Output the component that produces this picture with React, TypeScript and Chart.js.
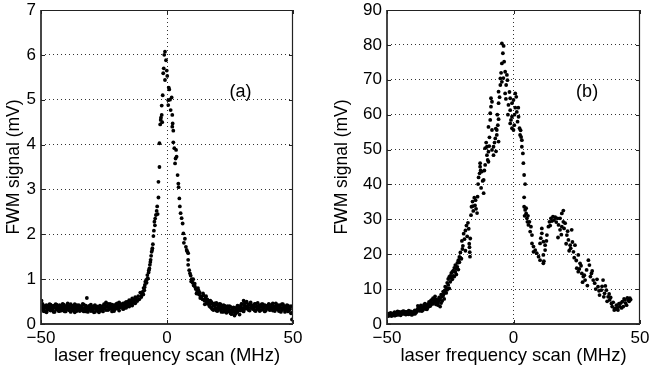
import React, { useEffect, useRef } from "react";
import { Chart, registerables } from "chart.js";

Chart.register(...registerables);

const FONT = "'Liberation Sans', Arial, Helvetica, sans-serif";

const xTicks = [-50, 0, 50];
const aYTicks = [0, 1, 2, 3, 4, 5, 6, 7];
const bYTicks = [0, 10, 20, 30, 40, 50, 60, 70, 80, 90];
const xTitle = "laser frequency scan (MHz)";
const yTitle = "FWM signal (mV)";

// ---------- Panel (a) ----------
const aLeftFreq = [
  -49.8, -49.4, -49.0, -48.6, -48.2, -47.8, -47.4, -47.0, -46.6, -46.2,
  -45.8, -45.4, -45.0, -44.6, -44.2, -43.8, -43.4, -43.0, -42.6, -42.2,
  -41.8, -41.4, -41.0, -40.6, -40.2, -39.8, -39.4, -39.0, -38.6, -38.2,
  -37.8, -37.4, -37.0, -36.6, -36.2, -35.8, -35.4, -35.0, -34.6, -34.2,
  -33.8, -33.4, -33.0, -32.6, -32.2, -31.8, -31.4, -31.0, -30.6, -30.2,
  -29.8, -29.4, -29.0, -28.6, -28.2, -27.8, -27.4, -27.0, -26.6, -26.2,
  -25.8, -25.4, -25.0, -24.6, -24.2, -23.8, -23.4, -23.0, -22.6, -22.2,
  -21.8, -21.4, -21.0, -20.6, -20.2, -19.8, -19.4, -19.0, -18.6, -18.2,
  -17.8, -17.4, -17.0, -16.6, -16.2, -15.8, -15.4, -15.0, -14.6, -14.2,
  -13.8, -13.4, -13.0, -12.6, -12.2,
];
const aLeftSignal1 = [
  0.52, 0.33, 0.40, 0.28, 0.37, 0.42, 0.31, 0.36, 0.44, 0.30,
  0.38, 0.34, 0.41, 0.27, 0.36, 0.43, 0.33, 0.38, 0.29, 0.40,
  0.35, 0.45, 0.32, 0.37, 0.28, 0.41, 0.34, 0.39, 0.30, 0.44,
  0.36, 0.31, 0.40, 0.26, 0.35, 0.42, 0.33, 0.38, 0.29, 0.40,
  0.34, 0.30, 0.43, 0.35, 0.28, 0.58, 0.37, 0.32, 0.41, 0.29,
  0.36, 0.33, 0.40, 0.27, 0.35, 0.31, 0.38, 0.26, 0.34, 0.30,
  0.39, 0.33, 0.44, 0.36, 0.48, 0.40, 0.31, 0.37, 0.45, 0.34,
  0.28, 0.39, 0.42, 0.33, 0.37, 0.46, 0.35, 0.30, 0.41, 0.38,
  0.44, 0.33, 0.40, 0.47, 0.36, 0.42, 0.50, 0.39, 0.45, 0.52,
  0.41, 0.48, 0.55, 0.46, 0.58,
];
const aLeftSignal2 = [
  0.38, 0.45, 0.29, 0.35, 0.41, 0.26, 0.39, 0.33, 0.37, 0.43,
  0.31, 0.40, 0.27, 0.36, 0.44, 0.32, 0.38, 0.29, 0.42, 0.35,
  0.30, 0.37, 0.43, 0.28, 0.39, 0.33, 0.46, 0.31, 0.36, 0.27,
  0.41, 0.35, 0.30, 0.44, 0.38, 0.29, 0.37, 0.42, 0.34, 0.31,
  0.39, 0.45, 0.28, 0.36, 0.41, 0.33, 0.27, 0.40, 0.35, 0.43,
  0.30, 0.38, 0.26, 0.42, 0.34, 0.39, 0.29, 0.36, 0.41, 0.32,
  0.37, 0.28, 0.35, 0.42, 0.31, 0.38, 0.45, 0.33, 0.40, 0.36,
  0.43, 0.34, 0.29, 0.38, 0.44, 0.35, 0.41, 0.48, 0.37, 0.43,
  0.39, 0.46, 0.35, 0.42, 0.49, 0.40, 0.45, 0.53, 0.44, 0.50,
  0.57, 0.47, 0.52, 0.60, 0.54,
];

const aRiseFreq = [
  -11.8, -11.4, -11.0, -10.6, -10.2, -9.9, -9.6, -9.3, -9.0, -8.8,
  -8.6, -8.3, -8.1, -7.8, -7.6, -7.3, -7.0, -6.8, -6.5, -6.3,
  -6.1, -5.8, -5.6, -5.4, -5.2, -5.0, -4.7, -4.4, -4.1, -3.9,
  -3.7, -3.4, -3.4, -3.0, -3.0, -2.7, -2.5, -2.4, -2.1, -2.1,
  -1.9, -1.7, -1.5, -1.3, -1.1, -0.8, -0.8, -0.4, -0.1, 0.1,
  -10.0, -9.4, -8.9, -7.9, -7.2, -6.6, -5.9, -4.8,
];
const aRiseSignal = [
  0.51, 0.62, 0.55, 0.70, 0.60, 0.68, 0.72, 0.80, 0.75, 0.87,
  0.94, 0.98, 0.92, 1.09, 1.02, 1.15, 1.24, 1.32, 1.43, 1.52,
  1.61, 1.69, 1.78, 1.96, 2.08, 2.28, 2.35, 2.43, 2.52, 2.62,
  2.45, 2.82, 3.17, 3.50, 4.03, 4.45, 4.55, 4.60, 4.66, 4.87,
  4.50, 5.10, 5.59, 5.70, 6.00, 5.44, 6.07, 5.88, 5.65, 5.53,
  0.64, 0.66, 0.82, 1.00, 1.20, 1.38, 1.65, 2.20,
];

const aFallFreq = [
  0.5, 0.5, 0.7, 0.9, 1.2, 1.45, 1.85, 2.1, 2.25, 2.1,
  2.5, 2.5, 2.9, 3.2, 3.4, 3.6, 3.8, 4.2, 4.5, 4.6,
  4.9, 5.1, 5.4, 5.8, 6.2, 6.5, 6.7, 7.1, 7.5, 7.8,
  8.0, 8.4, 8.4, 8.4, 8.8, 9.1, 9.4, 9.8, 10.2, 10.6,
  11.1, 11.4, 12.0, 12.3, 12.7, 13.0, 13.4, 13.7, 14.1, 14.5,
  14.9, 15.3, 15.7, 16.1,
  9.6, 10.4, 11.0, 11.7, 12.5, 13.2, 14.3, 15.0, 15.5, 16.0,
];
const aFallSignal = [
  4.99, 4.88, 5.27, 5.23, 5.00, 4.77, 5.05, 4.66, 4.47, 4.40,
  4.31, 4.05, 3.92, 3.58, 3.69, 3.88, 3.73, 3.32, 3.13, 3.05,
  2.80, 2.62, 2.47, 2.36, 2.24, 2.02, 1.81, 1.90, 1.72, 1.65,
  1.62, 1.58, 1.43, 1.32, 1.20, 1.13, 1.08, 1.00, 0.92, 0.86,
  0.83, 0.78, 0.72, 0.80, 0.66, 0.70, 0.62, 0.61, 0.55, 0.64,
  0.52, 0.58, 0.50, 0.45,
  0.95, 1.00, 0.90, 0.68, 0.75, 0.58, 0.68, 0.44, 0.62, 0.55,
];

const aRightFreq = [
  16.4, 16.8, 17.2, 17.6, 18.0, 18.4, 18.8, 19.2, 19.6, 20.0,
  20.4, 20.8, 21.2, 21.6, 22.0, 22.4, 22.8, 23.2, 23.6, 24.0,
  24.4, 24.8, 25.2, 25.6, 26.0, 26.4, 26.8, 27.2, 27.6, 28.0,
  28.4, 28.8, 29.2, 29.6, 30.0, 30.4, 30.8, 31.2, 31.6, 32.0,
  32.4, 32.8, 33.2, 33.6, 34.0, 34.4, 34.8, 35.2, 35.6, 36.0,
  36.4, 36.8, 37.2, 37.6, 38.0, 38.4, 38.8, 39.2, 39.6, 40.0,
  40.4, 40.8, 41.2, 41.6, 42.0, 42.4, 42.8, 43.2, 43.6, 44.0,
  44.4, 44.8, 45.2, 45.6, 46.0, 46.4, 46.8, 47.2, 47.6, 48.0,
  48.4, 48.8, 49.2, 49.6,
];
const aRightSignal1 = [
  0.48, 0.40, 0.52, 0.36, 0.45, 0.31, 0.42, 0.35, 0.47, 0.29,
  0.39, 0.33, 0.44, 0.27, 0.37, 0.42, 0.30, 0.36, 0.25, 0.40,
  0.33, 0.28, 0.38, 0.22, 0.34, 0.30, 0.19, 0.36, 0.26, 0.41,
  0.31, 0.21, 0.37, 0.44, 0.33, 0.28, 0.46, 0.39, 0.50, 0.35,
  0.43, 0.30, 0.48, 0.37, 0.41, 0.33, 0.45, 0.29, 0.39, 0.47,
  0.35, 0.42, 0.31, 0.38, 0.44, 0.36, 0.28, 0.41, 0.34, 0.39,
  0.45, 0.32, 0.37, 0.43, 0.30, 0.40, 0.35, 0.46, 0.33, 0.38,
  0.29, 0.42, 0.36, 0.31, 0.44, 0.34, 0.27, 0.39, 0.33, 0.41,
  0.30, 0.37, 0.24, 0.10,
];
const aRightSignal2 = [
  0.52, 0.44, 0.38, 0.49, 0.33, 0.41, 0.46, 0.36, 0.30, 0.43,
  0.37, 0.45, 0.31, 0.38, 0.34, 0.27, 0.41, 0.32, 0.38, 0.29,
  0.35, 0.40, 0.24, 0.31, 0.26, 0.37, 0.28, 0.23, 0.32, 0.27,
  0.35, 0.40, 0.30, 0.45, 0.36, 0.52, 0.41, 0.34, 0.47, 0.38,
  0.31, 0.44, 0.37, 0.42, 0.34, 0.39, 0.30, 0.45, 0.37, 0.33,
  0.41, 0.29, 0.38, 0.44, 0.32, 0.36, 0.42, 0.30, 0.39, 0.35,
  0.43, 0.31, 0.38, 0.34, 0.46, 0.37, 0.29, 0.40, 0.35, 0.42,
  0.32, 0.38, 0.27, 0.44, 0.36, 0.40, 0.31, 0.35, 0.42, 0.28,
  0.37, 0.33, 0.40, 0.25,
];

// ---------- Panel (b) ----------
const bBaseFreq = [
  -49.8, -49.4, -49.0, -48.6, -48.2, -47.8, -47.4, -47.0, -46.6, -46.2,
  -45.8, -45.4, -45.0, -44.6, -44.2, -43.8, -43.4, -43.0, -42.6, -42.2,
  -41.8, -41.4, -41.0, -40.6, -40.2, -39.8, -39.4, -39.0, -38.6, -38.2,
];
const bBaseSignal1 = [
  2.7, 2.3, 2.9, 2.5, 3.0, 2.6, 3.1, 2.4, 2.8, 3.3,
  2.6, 3.0, 3.5, 2.7, 3.2, 3.6, 2.9, 3.3, 2.7, 3.5,
  3.1, 2.8, 3.4, 3.0, 2.6, 3.2, 3.6, 2.9, 3.3, 4.0,
];
const bBaseSignal2 = [
  2.4, 3.0, 2.6, 3.2, 2.3, 2.9, 2.7, 3.4, 2.5, 3.1,
  3.6, 2.8, 3.2, 2.5, 3.4, 3.0, 3.7, 3.1, 3.5, 2.8,
  3.3, 3.8, 3.0, 3.6, 3.2, 2.9, 3.5, 3.9, 3.2, 3.6,
];

const bRiseFreq = [
  -37.8, -37.4, -37.0, -36.6, -36.2, -35.8, -35.4, -35.0, -34.6, -34.2,
  -33.8, -33.4, -33.0, -32.6, -32.2, -31.8, -31.4, -31.0, -30.6, -30.2,
  -29.8, -29.4, -29.0, -28.6, -28.2, -27.8, -27.4, -27.0, -26.6, -26.2,
  -25.8, -25.4, -25.0, -24.6, -24.2, -23.8, -23.4, -23.0, -22.6, -22.2,
  -21.8, -21.4, -21.0,
];
const bRiseSignal1 = [
  5.2, 3.9, 4.6, 4.1, 3.7, 4.8, 5.5, 4.4, 5.0, 4.2,
  5.7, 6.3, 5.1, 6.8, 5.9, 7.4, 6.5, 7.9, 5.6, 6.9,
  6.1, 7.6, 5.0, 8.4, 6.6, 9.3, 7.2, 10.7, 8.9, 11.8,
  12.9, 10.2, 13.8, 14.6, 12.8, 15.3, 13.6, 16.9, 14.2, 17.5,
  15.6, 19.2, 20.5,
];
const bRiseSignal2 = [
  4.4, 4.8, 3.8, 5.3, 4.5, 4.0, 4.7, 5.8, 4.3, 5.4,
  4.8, 5.2, 6.0, 5.5, 6.9, 5.8, 7.1, 6.3, 7.0, 6.2,
  5.4, 6.8, 7.3, 6.0, 7.9, 8.2, 8.8, 9.6, 10.4, 9.8,
  11.2, 13.5, 12.1, 13.2, 14.9, 13.8, 16.1, 14.9, 15.8, 16.4,
  18.3, 17.7, 19.0,
];

const bMainFreq = [
  -20.6, -20.4, -20.2, -20.0, -19.7, -19.4, -19.0, -19.0, -18.6, -18.3,
  -18.0, -17.7, -17.5, -17.4, -17.3, -17.2, -17.1, -16.8, -16.6, -16.2,
  -15.9, -15.5, -15.2, -14.8, -14.4, -14.2, -14.0, -13.8, -13.4, -13.2,
  -13.2, -12.5, -12.2, -11.8, -11.8, -11.5, -11.2, -11.2, -10.8, -10.5,
  -10.5, -9.9, -9.9, -9.9, -9.5, -9.2, -9.2, -8.9, -8.9, -8.5,
  -8.5, -8.5, -7.9, -7.9, -7.5, -7.2, -6.6, -6.6, -6.2, -5.9,
  -5.9, -5.9, -5.9, -5.2, -5.2, -4.6, -4.6, -4.6, -4.2, -3.9,
  -3.7, -3.3, -3.3, -2.9, -2.6, -2.4, -2.0, -1.6, -1.3, -1.3,
  -1.3, -0.6, -0.6, -0.6, 0.0, 0.0, 0.4, 0.7, 0.7, 1.1,
  1.3, 1.6, 2.0, 2.4, 2.6, 3.0, 3.3, 3.3, 3.7, 3.9,
  4.2, 4.6, 4.2, 4.2, 4.4, 4.6, 5.0, 5.0, 5.3, 5.5,
  5.7, 6.3, 5.9, 6.9, 6.6, 7.3, 7.3, 7.9, 8.6, 7.9,
  9.2, 9.9, 10.5, 11.8, 11.2, 11.2, 10.8, 11.8, 12.5, 10.5,
  12.5, 11.8, 13.2, 13.8, 14.2, 14.8, 15.6, 16.5, 17.4, 18.4,
  19.1, 19.7, 17.8, 18.4, 19.1, 17.6, 19.7, 20.4, 21.1, 21.7,
  22.4, 23.0, 22.6, 23.7, 24.3, 25.6, 26.3, 25.0, 25.6, 27.0,
  27.6, 29.6, 30.0, 28.9, 30.8, 28.3, 31.5, 32.1, 33.4, 34.7,
  34.0, 35.4, 36.0, 36.7, 37.4, 38.0, 38.7, 40.0, 41.3, 40.7,
  42.0, 43.0, 44.0, 45.3, 44.7, 46.0, 43.4,
];
const bMainSignal = [
  18.7, 23.8, 21.5, 22.4, 25.9, 24.3, 26.8, 21.0, 28.2, 25.1,
  29.0, 27.3, 23.0, 22.0, 20.6, 19.3, 24.5, 31.2, 33.6, 35.1,
  32.4, 36.2, 34.0, 33.0, 31.8, 36.5, 40.1, 42.0, 43.2, 45.1,
  46.1, 43.7, 41.0, 37.5, 41.3, 44.0, 45.6, 50.4, 52.0, 50.8,
  48.4, 49.4, 46.5, 56.5, 53.5, 58.5, 60.4, 62.3, 64.7, 63.7,
  55.6, 49.9, 50.8, 48.4, 52.0, 53.2, 54.2, 55.6, 57.0, 52.3,
  58.7, 63.3, 66.6, 68.5, 70.4, 69.4, 74.7, 80.4, 77.6, 79.7,
  75.2, 72.3, 66.1, 68.5, 71.4, 69.9, 62.8, 66.5, 64.7, 61.3,
  57.5, 63.3, 59.4, 56.1, 64.2, 55.6, 60.0, 66.1, 62.0, 65.1,
  60.8, 58.0, 59.4, 56.1, 54.2, 53.6, 52.7, 50.8, 48.9, 46.1,
  42.7, 40.1, 36.3, 33.6, 31.0, 32.7, 31.7, 33.2, 30.3, 29.3,
  31.0, 29.3, 28.4, 27.9, 26.5, 25.5, 23.1, 22.2, 21.2, 20.7,
  20.3, 19.3, 18.3, 17.4, 27.4, 26.0, 24.6, 23.6, 22.6, 23.1,
  21.2, 19.8, 25.5, 27.9, 29.3, 30.3, 30.8, 30.6, 30.3, 30.3,
  31.7, 32.5, 28.4, 27.0, 27.9, 24.8, 29.3, 28.9, 25.5, 24.1,
  22.6, 27.0, 21.7, 20.7, 22.6, 19.8, 17.4, 16.0, 15.0, 14.5,
  13.6, 18.3, 16.9, 15.5, 14.5, 12.6, 12.6, 11.7, 10.7, 9.7,
  8.3, 12.6, 8.8, 9.7, 7.8, 6.9, 5.9, 4.5, 4.0, 5.4,
  5.0, 6.4, 6.9, 6.9, 5.4, 7.4, 5.0,
];

const bExtraFreq = [
  12.0, 13.0, 14.5, 15.2, 16.0, 16.9, 18.9, 20.0, 20.8, 21.4,
  22.0, 23.3, 24.0, 24.8, 26.0, 26.7, 27.3, 28.0, 29.2, 30.4,
  31.1, 32.5, 33.0, 33.8, 35.0, 35.7, 36.3, 37.0, 37.8, 38.4,
  39.0, 39.4, 39.8, 40.4, 41.0, 41.7, 42.4, 42.7, 43.7, 44.3,
  45.0, 45.7, 46.3,
  -16.0, -15.0, -13.0, -12.8, -10.2, -9.6, -7.0, -6.9, -6.4, -5.5,
  -4.9, -4.0, -3.0, -2.2, -1.0, 0.3, 1.9, 2.8,
];
const bExtraSignal = [
  18.0, 23.8, 28.2, 29.5, 29.8, 29.2, 25.6, 27.4, 23.0, 26.6,
  21.0, 23.5, 19.0, 18.2, 15.8, 16.7, 12.0, 14.0, 11.0, 13.6,
  15.2, 10.0, 12.8, 9.5, 10.8, 7.8, 10.9, 6.5, 8.6, 7.6,
  5.0, 6.2, 4.0, 4.2, 4.6, 5.8, 6.0, 4.6, 7.2, 6.0,
  7.5, 6.5, 7.0,
  33.8, 35.5, 44.0, 39.0, 47.0, 51.0, 56.0, 49.5, 60.0, 65.0,
  72.0, 70.5, 64.5, 60.0, 58.5, 57.0, 62.0, 55.5,
];

type Pt = { x: number; y: number };
function zip(xs: number[], ys: number[]): Pt[] {
  const out: Pt[] = [];
  for (let i = 0; i < Math.min(xs.length, ys.length); i++) out.push({ x: xs[i], y: ys[i] });
  return out;
}

const panelAPoints: Pt[] = [
  ...zip(aLeftFreq, aLeftSignal1),
  ...zip(aLeftFreq, aLeftSignal2),
  ...zip(aRiseFreq, aRiseSignal),
  ...zip(aFallFreq, aFallSignal),
  ...zip(aRightFreq, aRightSignal1),
  ...zip(aRightFreq, aRightSignal2),
];
const panelBPoints: Pt[] = [
  ...zip(bBaseFreq, bBaseSignal1),
  ...zip(bBaseFreq, bBaseSignal2),
  ...zip(bRiseFreq, bRiseSignal1),
  ...zip(bRiseFreq, bRiseSignal2),
  ...zip(bMainFreq, bMainSignal),
  ...zip(bExtraFreq, bExtraSignal),
];

const framePlugin = {
  id: "frame",
  afterDraw(chart: any, _args: any, opts: any) {
    const { ctx, chartArea: a, scales } = chart;
    ctx.save();
    const L = Math.round(a.left);
    const R = Math.round(a.right);
    const T = Math.round(a.top);
    const B = Math.round(a.bottom);
    // top and right: thin dark
    ctx.strokeStyle = "#222";
    ctx.lineWidth = 1.2;
    ctx.beginPath();
    ctx.moveTo(L, T + 0.5);
    ctx.lineTo(R, T + 0.5);
    ctx.moveTo(R - 0.5, T);
    ctx.lineTo(R - 0.5, B);
    ctx.stroke();
    // left and bottom: heavier
    ctx.strokeStyle = "#333";
    ctx.lineWidth = 1.8;
    ctx.beginPath();
    ctx.moveTo(L, T);
    ctx.lineTo(L, B);
    ctx.lineTo(R, B);
    ctx.stroke();
    const tl = 4;
    ctx.strokeStyle = "#222";
    ctx.lineWidth = 1;
    ctx.beginPath();
    for (const t of scales.y.ticks) {
      const py = Math.round(scales.y.getPixelForValue(t.value)) + 0.5;
      ctx.moveTo(L, py);
      ctx.lineTo(L + tl, py);
      ctx.moveTo(R, py);
      ctx.lineTo(R - tl, py);
    }
    for (const t of scales.x.ticks) {
      const px = Math.round(scales.x.getPixelForValue(t.value)) + 0.5;
      ctx.moveTo(px, B);
      ctx.lineTo(px, B - tl);
      ctx.moveTo(px, T);
      ctx.lineTo(px, T + tl);
    }
    ctx.stroke();
    ctx.fillStyle = "#000";
    ctx.font = `18px ${FONT}`;
    ctx.textAlign = "center";
    ctx.textBaseline = "middle";
    ctx.fillText(opts.label, scales.x.getPixelForValue(opts.lx), scales.y.getPixelForValue(opts.ly));
    ctx.restore();
  },
};

type PanelProps = {
  points: Pt[];
  yTicks: number[];
  label: string;
  lx: number;
  ly: number;
  width: number;
  left: number;
  yAxisWidth: number;
  padRight: number;
  titlePadTop: number;
};

function Panel(p: PanelProps) {
  const ref = useRef<HTMLCanvasElement | null>(null);
  useEffect(() => {
    if (!ref.current) return;
    const yMax = p.yTicks[p.yTicks.length - 1];
    const yStep = p.yTicks[1] - p.yTicks[0];
    const chart = new Chart(ref.current, {
      type: "scatter",
      data: {
        datasets: [
          {
            data: p.points,
            backgroundColor: "#000",
            borderWidth: 0,
            pointRadius: 1.9,
            pointHoverRadius: 1.9,
          },
        ],
      },
      plugins: [framePlugin],
      options: {
        animation: false,
        responsive: false,
        events: [],
        layout: { padding: { top: 10, right: p.padRight, left: 0, bottom: 0 } },
        plugins: {
          legend: { display: false },
          tooltip: { enabled: false },
          frame: { label: p.label, lx: p.lx, ly: p.ly },
        } as any,
        scales: {
          x: {
            type: "linear",
            min: -50,
            max: 50,
            afterBuildTicks: (s: any) => {
              s.ticks = xTicks.map((v) => ({ value: v }));
            },
            afterFit: (s: any) => {
              s.height = 52;
              s.paddingLeft = 0;
              s.paddingRight = 0;
              s.paddingTop = 0;
              s.paddingBottom = 0;
            },
            ticks: {
              autoSkip: false,
              maxRotation: 0,
              padding: 4,
              color: "#000",
              font: { family: FONT, size: 17 },
              callback: (v: any) => String(v).replace("-", "\u2212"),
            },
            grid: {
              drawTicks: false,
              lineWidth: 1,
              color: (c: any) => (c.tick && c.tick.value === 0 ? "#333" : "rgba(0,0,0,0)"),
            },
            border: { display: false, dash: [1, 3] },
            title: {
              display: true,
              text: xTitle,
              color: "#000",
              font: { family: FONT, size: 18.5 },
              padding: { top: 0, bottom: 9 },
            },
          },
          y: {
            type: "linear",
            min: 0,
            max: yMax,
            ticks: {
              stepSize: yStep,
              autoSkip: false,
              padding: 5,
              color: "#000",
              font: { family: FONT, size: 17 },
            },
            afterFit: (s: any) => {
              s.width = p.yAxisWidth;
              s.paddingLeft = 0;
              s.paddingRight = 0;
              s.paddingTop = 0;
              s.paddingBottom = 0;
            },
            grid: {
              drawTicks: false,
              lineWidth: 1,
              color: (c: any) =>
                c.tick && c.tick.value > 0 && c.tick.value < yMax ? "#333" : "rgba(0,0,0,0)",
            },
            border: { display: false, dash: [1, 3] },
            title: {
              display: true,
              text: yTitle,
              color: "#000",
              font: { family: FONT, size: 17.5 },
              padding: { top: p.titlePadTop, bottom: 0 },
            },
          },
        },
      },
    });
    return () => chart.destroy();
  }, []);
  return (
    <canvas
      ref={ref}
      width={p.width}
      height={376}
      style={{ position: "absolute", left: p.left, top: 0, width: p.width, height: 376 }}
    />
  );
}

export default function App() {
  return (
    <div style={{ position: "absolute", left: 0, top: 0, width: 649, height: 376, background: "#fff" }}>
      <Panel
        points={panelAPoints}
        yTicks={aYTicks}
        label="(a)"
        lx={29.2}
        ly={5.17}
        width={330}
        left={0}
        yAxisWidth={41}
        padRight={37}
        titlePadTop={4}
      />
      <Panel
        points={panelBPoints}
        yTicks={bYTicks}
        label="(b)"
        lx={29.1}
        ly={66.5}
        width={319}
        left={330}
        yAxisWidth={57}
        padRight={9}
        titlePadTop={2}
      />
    </div>
  );
}
